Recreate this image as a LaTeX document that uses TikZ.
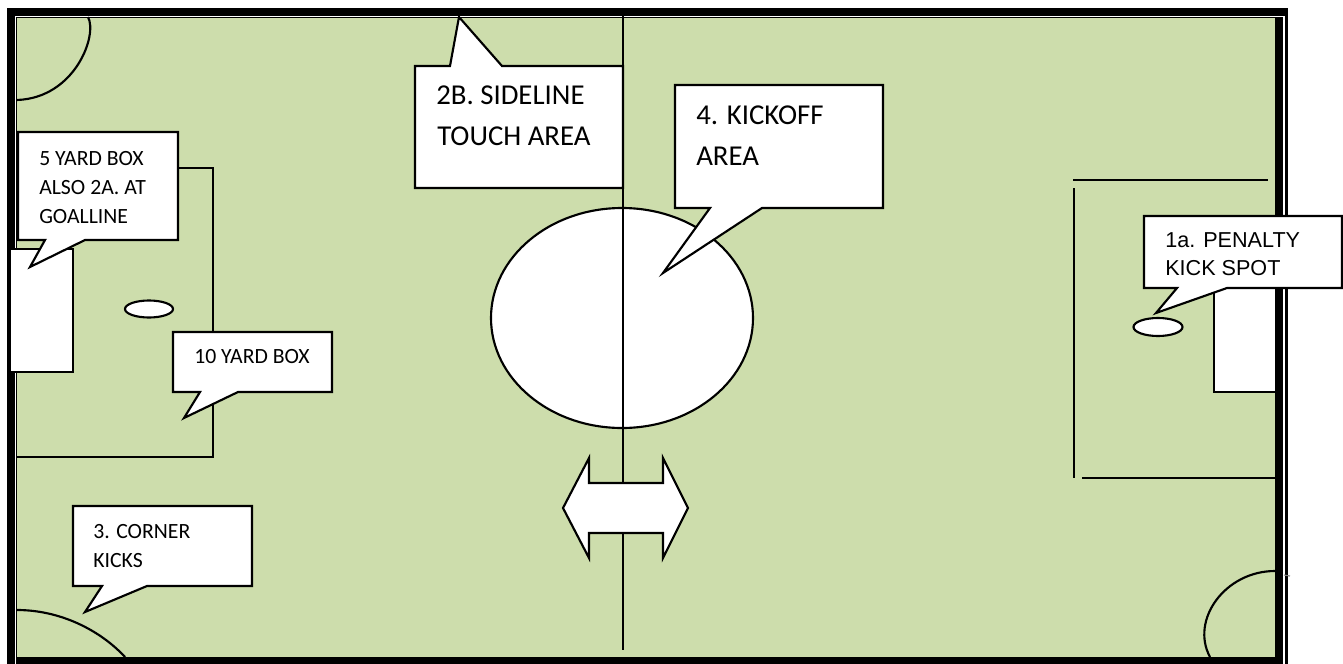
\documentclass[tikz,border=0pt]{standalone}
\usepackage{fontspec}
\setmainfont{Carlito}
\newfontfamily\arialfont{Liberation Sans}
\definecolor{field}{RGB}{205,221,172}
\begin{document}
\begin{tikzpicture}[x=0.75pt,y=-0.75pt,
  ln/.style={draw=black,line width=1.6pt},
  whiteshape/.style={draw=black,fill=white,line width=1.6pt,line join=miter},
  callout/.style={draw=black,fill=white,line width=1.6pt,line join=miter},
  lbl/.style={anchor=base west,inner sep=0pt,font=\fontsize{16.3}{19}\selectfont},
  biglbl/.style={anchor=base west,inner sep=0pt,font=\fontsize{21.6}{24}\selectfont},
  arlbl/.style={anchor=base west,inner sep=0pt,font=\arialfont\fontsize{16.2}{19}\selectfont},
]
\useasboundingbox (0,0) rectangle (1343,664);
\fill[white] (0,0) rectangle (1343,664);
% double border
\fill[black] (7,8) rectangle (1288,664);
\fill[white] (15,16) rectangle (1285,664);
\fill[black] (16,17) rectangle (1283,664);
\fill[field] (17,18) rectangle (1275,657);
% corner arcs
\draw[ln] (88,17) .. controls (98,35) and (75,98) .. (17,100);
\draw[ln] (17,610) .. controls (60,610) and (100,630) .. (125,657);
\draw[ln] (1275,571) .. controls (1225,571) and (1190,620) .. (1210,657);
\draw[gray,line width=0.8pt] (1284,575) -- (1290,576);
% left 10 yard box
\draw[ln] (17,168) -- (213,168) -- (213,457) -- (17,457);
% right 10 yard box
\draw[ln] (1073,180) -- (1268,180);
\draw[ln] (1074,188) -- (1074,478);
\draw[ln] (1082,478) -- (1275,478);
% centre circle and halfway line
\draw[whiteshape] (622,318) ellipse [x radius=131,y radius=110];
\coordinate (htop) at (623,16);
\coordinate (hbot) at (623,650);
\draw[ln] (htop) -- (hbot);
% double arrow
\draw[whiteshape] (563,508) -- (589,458) -- (589,483) -- (663,483) -- (663,458)
  -- (688,508) -- (663,558) -- (663,533) -- (589,533) -- (589,558) -- cycle;
% goals
\draw[whiteshape] (10,249) rectangle (73,372);
\draw[whiteshape] (1275,268) -- (1214,268) -- (1214,392) -- (1275,392);
% penalty spots
\draw[whiteshape] (149,309) ellipse [x radius=24,y radius=8.5];
\draw[whiteshape] (1158,327) ellipse [x radius=24.5,y radius=9];
% callouts
\draw[callout] (18,132) -- (178,132) -- (178,240) -- (85,240) -- (30,267) -- (45,240) -- (18,240) -- cycle;
\node[lbl] (c5a) at (39,165) {5 YARD BOX};
\node[lbl] (c5b) at (39,194) {ALSO 2A. AT};
\node[lbl] (c5c) at (39,223) {GOALLINE};

\draw[callout] (173,332) -- (332,332) -- (332,392) -- (238,392) -- (184,418) -- (200,392) -- (173,392) -- cycle;
\node[lbl] (c10) at (194,363) {10 YARD BOX};

\draw[callout] (415,66) -- (450,66) -- (459,17) -- (502,66) -- (623,66) -- (623,188) -- (415,188) -- cycle;
\node[biglbl] (c2a) at (436,104) {2B. SIDELINE};
\node[biglbl] (c2b) at (437,145) {TOUCH AREA};

\draw[callout] (675,85) -- (883,85) -- (883,208) -- (762,208) -- (663,273) -- (710,208) -- (675,208) -- cycle;
\node[biglbl] (c4a) at (696,124) {4. KICKOFF};
\node[biglbl] (c4b) at (696,165) {AREA};

\draw[callout] (1144,216) -- (1342,216) -- (1342,288) -- (1227,288) -- (1156,313) -- (1177,288) -- (1144,288) -- cycle;
\node[arlbl] (c1a) at (1165,247) {1a. PENALTY};
\node[arlbl] (c1b) at (1165,275) {KICK SPOT};

\draw[callout] (73,506) -- (252,506) -- (252,586) -- (147,586) -- (85,612) -- (102,586) -- (73,586) -- cycle;
\node[lbl] (c3a) at (93,538) {3. CORNER};
\node[lbl] (c3b) at (93,567) {KICKS};
\end{tikzpicture}
\end{document}
